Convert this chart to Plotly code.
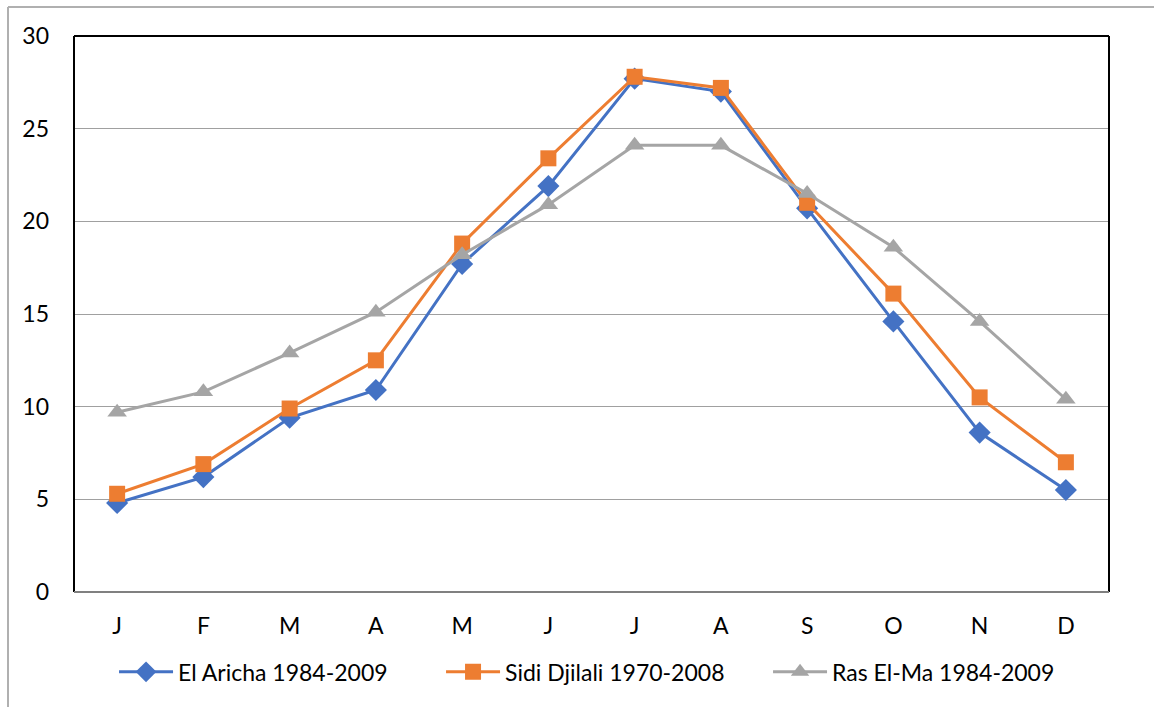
import plotly.graph_objects as go

months = ["J", "F", "M", "A", "M", "J", "J", "A", "S", "O", "N", "D"]
el_aricha = [4.8, 6.2, 9.4, 10.9, 17.7, 21.9, 27.7, 27.0, 20.7, 14.6, 8.6, 5.5]
sidi_djilali = [5.3, 6.9, 9.9, 12.5, 18.8, 23.4, 27.8, 27.2, 21.0, 16.1, 10.5, 7.0]
ras_el_ma = [9.7, 10.8, 12.9, 15.1, 18.2, 20.9, 24.1, 24.1, 21.5, 18.6, 14.6, 10.4]
y_ticks = [0, 5, 10, 15, 20, 25, 30]

x = list(range(len(months)))
FONT = "Lato, Calibri, Carlito, sans-serif"

fig = go.Figure()
fig.add_trace(go.Scatter(x=x, y=el_aricha, name="El Aricha 1984-2009", mode="lines+markers",
                         line=dict(color="#4472C4", width=3),
                         marker=dict(symbol="diamond", size=17, color="#4472C4")))
fig.add_trace(go.Scatter(x=x, y=sidi_djilali, name="Sidi Djilali 1970-2008", mode="lines+markers",
                         line=dict(color="#ED7D31", width=3),
                         marker=dict(symbol="square", size=16, color="#ED7D31")))
fig.add_trace(go.Scatter(x=x, y=ras_el_ma, name="Ras El-Ma 1984-2009", mode="lines+markers",
                         line=dict(color="#A5A5A5", width=3),
                         marker=dict(symbol="triangle-up", size=17, color="#A5A5A5")))

fig.update_layout(
    width=1154, height=707,
    margin=dict(l=74, r=45, t=36, b=115),
    paper_bgcolor="white", plot_bgcolor="white",
    font=dict(family=FONT, size=23, color="black"),
    showlegend=True,
    legend=dict(orientation="h", x=0.5126, xanchor="center", y=-0.105, yanchor="top",
                font=dict(size=23), itemwidth=54, traceorder="normal",
                entrywidth=258, entrywidthmode="pixels"),
    xaxis=dict(range=[-0.5, 11.5], tickmode="array", tickvals=x, ticktext=months,
               showgrid=False, zeroline=False, showline=False, ticks="",
               ticklabelstandoff=18, fixedrange=True),
    yaxis=dict(range=[0, 30], tickmode="array", tickvals=y_ticks,
               showgrid=True, gridcolor="#A0A0A0", gridwidth=1, zeroline=False,
               showline=False, ticks="", ticklabelstandoff=24, fixedrange=True),
    shapes=[
        dict(type="line", xref="paper", yref="paper", x0=0, x1=0, y0=0, y1=1,
             line=dict(color="black", width=2)),
        dict(type="line", xref="paper", yref="paper", x0=0, x1=1, y0=1, y1=1,
             line=dict(color="black", width=2)),
        dict(type="line", xref="paper", yref="paper", x0=1, x1=1, y0=0, y1=1,
             line=dict(color="black", width=2)),
        dict(type="line", xref="paper", yref="paper", x0=0, x1=1, y0=0, y1=0,
             line=dict(color="#808080", width=2)),
        dict(type="line", xref="paper", yref="paper",
             x0=(8 - 74) / 1035, x1=(1154 - 74) / 1035,
             y0=(592 - 7) / 556, y1=(592 - 7) / 556,
             line=dict(color="#B0B0B0", width=2)),
        dict(type="line", xref="paper", yref="paper",
             x0=(8 - 74) / 1035, x1=(8 - 74) / 1035,
             y0=(592 - 7) / 556, y1=(592 - 707) / 556,
             line=dict(color="#B0B0B0", width=2)),
    ],
)

fig.write_html("out.html", config={"displayModeBar": False},
               post_script="document.body.style.margin='0';document.body.style.overflow='hidden';")
